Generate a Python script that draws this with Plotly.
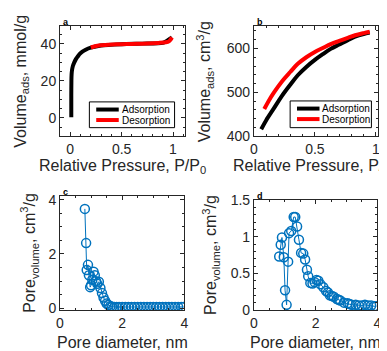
import plotly.graph_objects as go
from plotly.subplots import make_subplots

# panel a - isotherm (mmol/g)
a_ads_p = [0.01, 0.01, 0.011, 0.013, 0.018, 0.026, 0.038, 0.055, 0.07, 0.09, 0.118, 0.15, 0.2, 0.3, 0.5, 0.7, 0.9, 0.99]
a_ads_v = [0.3, 12, 20, 23.5, 26.2, 28.2, 29.9, 31.8, 33.0, 34.5, 35.8, 36.9, 38.0, 39.2, 39.9, 40.2, 40.6, 43.6]
a_des_p = [0.99, 0.975, 0.96, 0.93, 0.86, 0.75, 0.65, 0.55, 0.45, 0.37, 0.29, 0.24, 0.2]
a_des_v = [43.6, 42.3, 41.4, 40.9, 40.6, 40.3, 40.1, 40.0, 39.8, 39.6, 39.3, 38.8, 38.1]

# panel b - isotherm (cm3/g)
b_ads_p = [0.06, 0.1, 0.165, 0.23, 0.3, 0.36, 0.43, 0.5, 0.565, 0.63, 0.7, 0.77, 0.83, 0.9, 0.95]
b_ads_v = [416, 436, 464, 492, 518, 539, 558, 574, 587, 599, 609, 619, 627, 633, 636]
b_des_p = [0.95, 0.9, 0.83, 0.77, 0.7, 0.63, 0.565, 0.5, 0.43, 0.36, 0.3, 0.23, 0.165, 0.12, 0.085]
b_des_v = [638, 635, 630, 624, 617, 610, 601, 592, 580, 565, 547, 525, 500, 480, 462]

# panel c - pore size distribution
c_d = [0.80, 0.84, 0.86, 0.90, 0.93, 0.97, 1.00, 1.04, 1.08, 1.12, 1.16, 1.20, 1.25, 1.30, 1.35,
       1.40, 1.45, 1.50, 1.56, 1.62, 1.68, 1.75, 1.82, 1.90, 2.00, 2.10, 2.20, 2.30, 2.40, 2.50,
       2.60, 2.70, 2.80, 2.90, 3.00, 3.10, 3.20, 3.30, 3.40, 3.50, 3.60, 3.70, 3.80, 3.90, 3.97]
c_v = [3.66, 2.40, 1.41, 1.60, 1.22, 0.78, 0.85, 1.05, 1.35, 1.22, 1.00, 0.90, 0.98, 0.75, 0.56,
       0.40, 0.28, 0.18, 0.12, 0.08, 0.06, 0.05, 0.05, 0.05, 0.05, 0.05, 0.05, 0.05, 0.05, 0.05,
       0.05, 0.05, 0.05, 0.05, 0.05, 0.05, 0.05, 0.05, 0.05, 0.05, 0.05, 0.05, 0.05, 0.05, 0.05]

# panel d - pore size distribution
d_d = [0.82, 0.87, 0.91, 0.97, 1.01, 1.06, 1.11, 1.14, 1.21, 1.29, 1.34, 1.40, 1.46, 1.53, 1.60,
       1.66, 1.72, 1.76, 1.83, 1.90, 1.97, 2.03, 2.09, 2.16, 2.25, 2.34, 2.40, 2.46, 2.53, 2.59,
       2.69, 2.75, 2.80, 2.92, 3.04, 3.10, 3.17, 3.30, 3.40, 3.50, 3.60, 3.70, 3.80, 3.90, 3.97]
d_v = [0.73, 0.89, 0.99, 0.72, 0.27, 0.07, 0.66, 1.05, 1.08, 1.27, 1.27, 1.14, 0.96, 0.78, 0.77,
       0.69, 0.55, 0.46, 0.37, 0.36, 0.38, 0.41, 0.40, 0.35, 0.31, 0.26, 0.24, 0.20, 0.19, 0.18,
       0.15, 0.14, 0.13, 0.10, 0.09, 0.08, 0.07, 0.07, 0.06, 0.06, 0.07, 0.06, 0.06, 0.05, 0.05]

W, H = 387, 351
INK = '#262626'
BLUE = '#0072BD'
FONT = 'Liberation Sans, Arial, sans-serif'


def px(x):
    return x / W


def py(y):
    return 1 - y / H


fig = make_subplots(rows=2, cols=2)

fig.add_trace(go.Scatter(x=a_ads_p, y=a_ads_v, mode='lines', line=dict(color='black', width=4, shape='spline', smoothing=0.6)), row=1, col=1)
fig.add_trace(go.Scatter(x=a_des_p, y=a_des_v, mode='lines', line=dict(color='#FF0000', width=4, shape='spline', smoothing=0.6)), row=1, col=1)
fig.add_trace(go.Scatter(x=b_ads_p, y=b_ads_v, mode='lines', line=dict(color='black', width=4, shape='spline')), row=1, col=2)
fig.add_trace(go.Scatter(x=b_des_p, y=b_des_v, mode='lines', line=dict(color='#FF0000', width=4, shape='spline')), row=1, col=2)
for d, v, c in [(c_d, c_v, 1), (d_d, d_v, 2)]:
    fig.add_trace(go.Scatter(x=d, y=v, mode='lines+markers', line=dict(color=BLUE, width=1),
                             marker=dict(symbol='circle-open', size=9, color=BLUE, line=dict(width=1.5))),
                  row=2, col=c)

# axis boxes (pixel positions of the reference)
boxes = {
    1: (49, 177, 10, 126),
    2: (247, 374, 11, 126),
    3: (49, 176, 189, 308),
    4: (247, 373, 193, 308),
}
ranges = {
    1: ([-0.1, 1.12], [-10, 50], [0, 0.5, 1], ['0', '0.5', '1'], 0.1, [0, 20, 40], 5),
    2: ([0, 1.02], [400, 650], [0, 0.5, 1], ['0', '0.5', '1'], 0.1, [400, 500, 600], 20),
    3: ([0, 4], [-0.06, 4.12], [0, 2, 4], ['0', '2', '4'], 0.5, [0, 2, 4], 0.5),
    4: ([0, 4], [0, 1.5], [0, 2, 4], ['0', '2', '4'], 0.5, [0, 0.5, 1, 1.5], 0.1),
}
for i, (x0, x1, y0, y1) in boxes.items():
    xr, yr, xt, xtt, xm, yt, ym = ranges[i]
    sfx = '' if i == 1 else str(i)
    common = dict(showline=True, linecolor=INK, linewidth=1, mirror='ticks', ticks='inside',
                  ticklen=4, tickwidth=1, tickcolor=INK, showgrid=False, zeroline=False,
                  tickfont=dict(size=14, color=INK, family=FONT))
    fig.update_layout(**{
        'xaxis' + sfx: dict(domain=[px(x0), px(x1)], range=xr, tickvals=xt, ticktext=xtt,
                            minor=dict(dtick=xm, ticklen=2, tickcolor=INK, ticks='inside'), **common),
        'yaxis' + sfx: dict(domain=[py(y1), py(y0)], range=yr, tickvals=yt,
                            minor=dict(dtick=ym, ticklen=2, tickcolor=INK, ticks='inside'), **common),
    })

ann = []
tfont = dict(size=16, color=INK, family=FONT)
xtitles = ['Relative Pressure, P/P<sub>0</sub>', 'Relative Pressure, P/P<sub>0</sub>',
           'Pore diameter, nm', 'Pore diameter, nm']
ytitles = ['Volume<sub>ads</sub>, mmol/g', 'Volume<sub>ads</sub>, cm<sup>3</sup>/g',
           'Pore<sub>volume</sub>, cm<sup>3</sup>/g', 'Pore<sub>volume</sub>, cm<sup>3</sup>/g']
ytx = [10, 197, 18, 203]
xty = [158, 158, 342, 342]
labels = ['a', 'b', 'c', 'd']
for i, (x0, x1, y0, y1) in boxes.items():
    k = i - 1
    ann.append(dict(text=xtitles[k], x=px((x0 + x1) / 2), y=py(xty[k]), xref='paper', yref='paper',
                    showarrow=False, font=tfont, xanchor='center', yanchor='middle'))
    ann.append(dict(text=ytitles[k], x=px(ytx[k]), y=py((y0 + y1) / 2), xref='paper', yref='paper',
                    showarrow=False, font=tfont, textangle=-90, xanchor='center', yanchor='middle'))
    ann.append(dict(text='<b>%s</b>' % labels[k], x=px(x0 + 1), y=py(y0), xref='paper', yref='paper',
                    showarrow=False, font=dict(size=9, color='black', family=FONT),
                    xanchor='left', yanchor='bottom', yshift=-3))

# legends drawn by hand (panel a and b)
shapes = []
for lx0, lx1, ly0, ly1 in [(79, 166, 90, 117), (284, 367, 89, 117)]:
    shapes.append(dict(type='rect', xref='paper', yref='paper', x0=px(lx0), x1=px(lx1), y0=py(ly1), y1=py(ly0),
                       line=dict(color='black', width=1), fillcolor='white', layer='above'))
    for j, (name, col) in enumerate([('Adsorption', 'black'), ('Desorption', '#FF0000')]):
        yy = ly0 + 8 + j * 11
        shapes.append(dict(type='line', xref='paper', yref='paper', x0=px(lx0 + 7), x1=px(lx0 + 30),
                           y0=py(yy), y1=py(yy), line=dict(color=col, width=4), layer='above'))
        ann.append(dict(text=name, x=px(lx0 + 31), y=py(yy), xref='paper', yref='paper', showarrow=False,
                        font=dict(size=10, color='black', family=FONT), xanchor='left', yanchor='middle'))

fig.update_layout(width=W, height=H, margin=dict(l=0, r=0, t=0, b=0), showlegend=False,
                  plot_bgcolor='white', paper_bgcolor='white', annotations=ann, shapes=shapes,
                  font=dict(family=FONT, color=INK))

fig.write_html("out.html")
